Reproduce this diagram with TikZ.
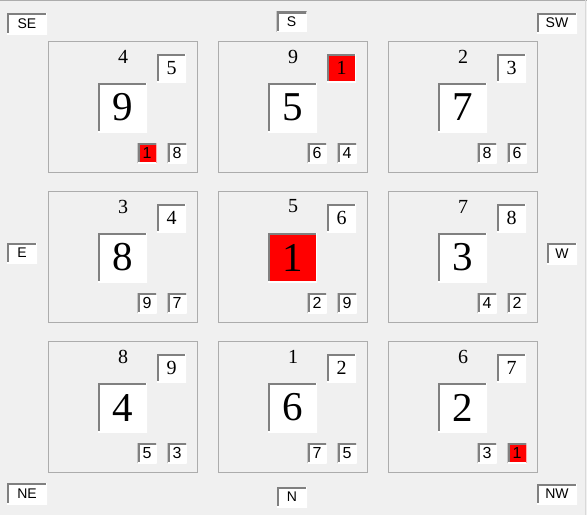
\documentclass[tikz,border=0pt]{standalone}
\usepackage{fontspec}
\setmainfont{Liberation Serif}
\setsansfont{Liberation Sans}
\usetikzlibrary{positioning}
\definecolor{formbg}{RGB}{240,240,240}
\definecolor{groupline}{RGB}{172,172,172}
\definecolor{edgedark}{RGB}{128,128,128}
\definecolor{cellred}{RGB}{255,0,0}
\tikzset{
  sunken/.style= {
    inner sep = 0pt,
    path picture = {
      \draw[line width=4pt,color=edgedark]
        (path picture bounding box.south west) -- (path picture bounding box.north west)
        -- (path picture bounding box.north east);
      \draw[line width=2pt,color=white]
        (path picture bounding box.north east) -- (path picture bounding box.south east)
        -- (path picture bounding box.south west);
    }
  },
  cellfill/.code= {
    \ifnum#1=1 \tikzset{fill=cellred}\else\tikzset{fill=white}\fi
  },
  groupbox/.style= {
    draw = groupline,
    line width = 1pt,
    anchor = north west,
    inner sep = 0pt,
    minimum width = 149pt,
    minimum height = 131pt
  },
  headnum/.style= {
    inner sep = 0pt,
    font = \fontsize{20}{20}\selectfont
  },
  bignum/.style= {
    sunken,
    minimum size = 49pt,
    font = \fontsize{41}{41}\selectfont
  },
  cornernum/.style= {
    sunken,
    minimum width = 29pt,
    minimum height = 28pt,
    font = \fontsize{20}{20}\selectfont
  },
  tailnum/.style= {
    sunken,
    minimum width = 19pt,
    minimum height = 20pt,
    font = \sffamily\fontsize{16}{16}\selectfont
  },
  dirlabel/.style= {
    sunken,
    fill = white,
    font = \sffamily\fontsize{14}{14}\selectfont
  }
}

\begin{document}
\begin{tikzpicture}[x=1pt,y=-1pt]

  % form background
  \fill[formbg] (0,0) rectangle (587,515);
  \useasboundingbox (0,0) rectangle (587,515);
  \draw[groupline] (0,0.5) -- (587,0.5);
  \draw[white!85!black] (585.5,0) -- (585.5,515);

  % panels
  \foreach \c/\r/\h/\t/\m/\p/\q [count=\k] in {
      0/0/4/5/9/1/8, 1/0/9/1/5/6/4, 2/0/2/3/7/8/6,
      0/1/3/4/8/9/7, 1/1/5/6/1/2/9, 2/1/7/8/3/4/2,
      0/2/8/9/4/5/3, 1/2/1/2/6/7/5, 2/2/6/7/2/3/1}{
    \begin{scope}[shift={(48+170*\c,41+150*\r)}]
      \node[groupbox] (g\k) at (0,0) {};
      \node[headnum] (g\k-head) at (75,15.5) {\h};
      \node[cornernum,cellfill=\t] (g\k-top) at (123.5,27) {\t};
      \node[bignum,cellfill=\m] (g\k-mid) at (74.5,66.5) {\m};
      \node[tailnum,cellfill=\p] (g\k-left) at (99,112) {\p};
      \node[tailnum,cellfill=\q] (g\k-right) at (129,112) {\q};
    \end{scope}
  }

  % compass labels
  \foreach \nm/\x/\y/\w/\hh in {
      SE/27/23.5/40/21, S/291.5/21.5/30/20, SW/557/23/40/20,
      E/22/253/30/20, W/562/253.5/30/21,
      NE/27/493.5/40/21, N/292/497/30/20, NW/557/494/40/20}{
    \node[dirlabel,minimum width=\w pt,minimum height=\hh pt] (lab\nm) at (\x,\y) {\nm};
  }

\end{tikzpicture}
\end{document}
